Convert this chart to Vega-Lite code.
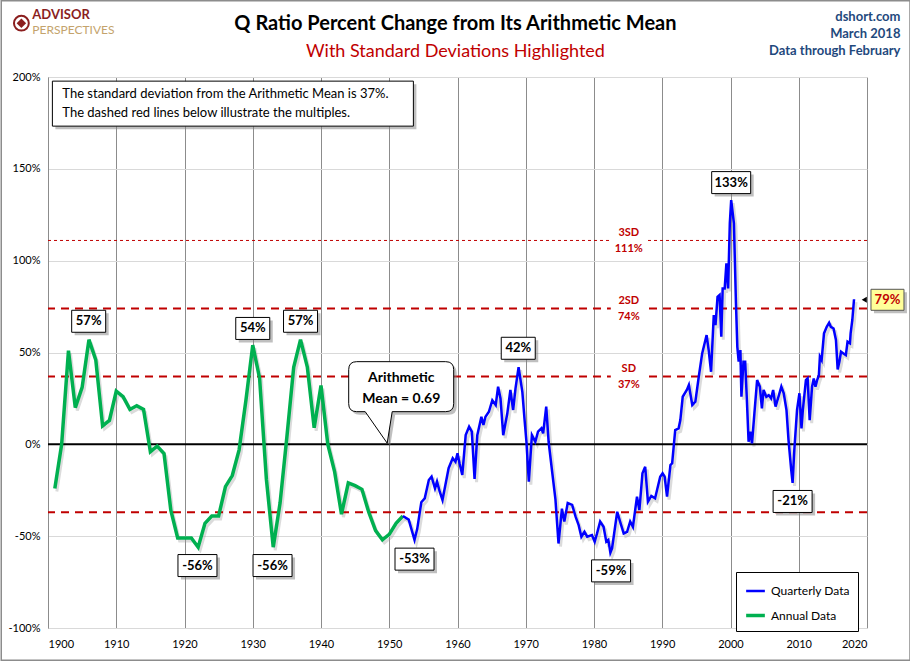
{
  "$schema": "https://vega.github.io/schema/vega-lite/v6.json",
  "width": 819,
  "height": 551,
  "autosize": {"type": "none"},
  "padding": {"left": 48, "top": 77, "right": 43, "bottom": 33},
  "background": "white",
  "datasets": {
    "series": [
      {"year": 1901, "value": -24, "series": "Annual Data"},
      {"year": 1902, "value": 0, "series": "Annual Data"},
      {"year": 1903, "value": 51, "series": "Annual Data"},
      {"year": 1904, "value": 20, "series": "Annual Data"},
      {"year": 1905, "value": 31, "series": "Annual Data"},
      {"year": 1906, "value": 57, "series": "Annual Data"},
      {"year": 1907, "value": 46, "series": "Annual Data"},
      {"year": 1908, "value": 10, "series": "Annual Data"},
      {"year": 1909, "value": 13, "series": "Annual Data"},
      {"year": 1910, "value": 29, "series": "Annual Data"},
      {"year": 1911, "value": 26, "series": "Annual Data"},
      {"year": 1912, "value": 19, "series": "Annual Data"},
      {"year": 1913, "value": 21, "series": "Annual Data"},
      {"year": 1914, "value": 19, "series": "Annual Data"},
      {"year": 1915, "value": -4, "series": "Annual Data"},
      {"year": 1916, "value": -1, "series": "Annual Data"},
      {"year": 1917, "value": -5, "series": "Annual Data"},
      {"year": 1918, "value": -36, "series": "Annual Data"},
      {"year": 1919, "value": -51, "series": "Annual Data"},
      {"year": 1920, "value": -51, "series": "Annual Data"},
      {"year": 1921, "value": -51, "series": "Annual Data"},
      {"year": 1922, "value": -56, "series": "Annual Data"},
      {"year": 1923, "value": -43, "series": "Annual Data"},
      {"year": 1924, "value": -39, "series": "Annual Data"},
      {"year": 1925, "value": -39, "series": "Annual Data"},
      {"year": 1926, "value": -23, "series": "Annual Data"},
      {"year": 1927, "value": -17, "series": "Annual Data"},
      {"year": 1928, "value": -3, "series": "Annual Data"},
      {"year": 1929, "value": 24, "series": "Annual Data"},
      {"year": 1930, "value": 54, "series": "Annual Data"},
      {"year": 1931, "value": 36, "series": "Annual Data"},
      {"year": 1932, "value": -19, "series": "Annual Data"},
      {"year": 1933, "value": -56, "series": "Annual Data"},
      {"year": 1934, "value": -32, "series": "Annual Data"},
      {"year": 1935, "value": 4, "series": "Annual Data"},
      {"year": 1936, "value": 42, "series": "Annual Data"},
      {"year": 1937, "value": 57, "series": "Annual Data"},
      {"year": 1938, "value": 42, "series": "Annual Data"},
      {"year": 1939, "value": 9, "series": "Annual Data"},
      {"year": 1940, "value": 32, "series": "Annual Data"},
      {"year": 1941, "value": 0, "series": "Annual Data"},
      {"year": 1942, "value": -15, "series": "Annual Data"},
      {"year": 1943, "value": -38, "series": "Annual Data"},
      {"year": 1944, "value": -21, "series": "Annual Data"},
      {"year": 1945, "value": -22.5, "series": "Annual Data"},
      {"year": 1946, "value": -24.5, "series": "Annual Data"},
      {"year": 1947, "value": -37, "series": "Annual Data"},
      {"year": 1948, "value": -47, "series": "Annual Data"},
      {"year": 1949, "value": -52, "series": "Annual Data"},
      {"year": 1950, "value": -49, "series": "Annual Data"},
      {"year": 1951, "value": -43, "series": "Annual Data"},
      {"year": 1952, "value": -39, "series": "Annual Data"},
      {"year": 1952.0, "value": -39, "series": "Quarterly Data"},
      {"year": 1952.85, "value": -41, "series": "Quarterly Data"},
      {"year": 1953.7, "value": -52, "series": "Quarterly Data"},
      {"year": 1954.1, "value": -46, "series": "Quarterly Data"},
      {"year": 1954.7, "value": -31.5, "series": "Quarterly Data"},
      {"year": 1955.2, "value": -29.4, "series": "Quarterly Data"},
      {"year": 1955.8, "value": -19.4, "series": "Quarterly Data"},
      {"year": 1956.2, "value": -17.6, "series": "Quarterly Data"},
      {"year": 1956.7, "value": -24, "series": "Quarterly Data"},
      {"year": 1957.0, "value": -20.3, "series": "Quarterly Data"},
      {"year": 1957.4, "value": -25.8, "series": "Quarterly Data"},
      {"year": 1957.8, "value": -30.3, "series": "Quarterly Data"},
      {"year": 1958.7, "value": -13, "series": "Quarterly Data"},
      {"year": 1959.3, "value": -7.6, "series": "Quarterly Data"},
      {"year": 1959.7, "value": -9.5, "series": "Quarterly Data"},
      {"year": 1960.0, "value": -4.9, "series": "Quarterly Data"},
      {"year": 1960.3, "value": -10.3, "series": "Quarterly Data"},
      {"year": 1960.7, "value": -16.7, "series": "Quarterly Data"},
      {"year": 1961.2, "value": 5, "series": "Quarterly Data"},
      {"year": 1961.7, "value": 9.6, "series": "Quarterly Data"},
      {"year": 1962.1, "value": 6.9, "series": "Quarterly Data"},
      {"year": 1962.5, "value": -18.9, "series": "Quarterly Data"},
      {"year": 1962.9, "value": 5, "series": "Quarterly Data"},
      {"year": 1963.5, "value": 15, "series": "Quarterly Data"},
      {"year": 1963.8, "value": 10.5, "series": "Quarterly Data"},
      {"year": 1964.1, "value": 15, "series": "Quarterly Data"},
      {"year": 1964.6, "value": 17.7, "series": "Quarterly Data"},
      {"year": 1965.1, "value": 24, "series": "Quarterly Data"},
      {"year": 1965.6, "value": 21.4, "series": "Quarterly Data"},
      {"year": 1965.95, "value": 31.4, "series": "Quarterly Data"},
      {"year": 1966.3, "value": 25, "series": "Quarterly Data"},
      {"year": 1966.7, "value": 5, "series": "Quarterly Data"},
      {"year": 1967.3, "value": 16.9, "series": "Quarterly Data"},
      {"year": 1967.75, "value": 29.6, "series": "Quarterly Data"},
      {"year": 1968.15, "value": 18.7, "series": "Quarterly Data"},
      {"year": 1968.5, "value": 30.5, "series": "Quarterly Data"},
      {"year": 1968.95, "value": 42, "series": "Quarterly Data"},
      {"year": 1969.5, "value": 28.6, "series": "Quarterly Data"},
      {"year": 1969.85, "value": 12.3, "series": "Quarterly Data"},
      {"year": 1970.1, "value": 1.4, "series": "Quarterly Data"},
      {"year": 1970.45, "value": -20.3, "series": "Quarterly Data"},
      {"year": 1970.9, "value": 5, "series": "Quarterly Data"},
      {"year": 1971.4, "value": 1.4, "series": "Quarterly Data"},
      {"year": 1971.8, "value": 6.9, "series": "Quarterly Data"},
      {"year": 1972.3, "value": 8.7, "series": "Quarterly Data"},
      {"year": 1972.55, "value": 6, "series": "Quarterly Data"},
      {"year": 1973.0, "value": 20.5, "series": "Quarterly Data"},
      {"year": 1973.35, "value": 1.4, "series": "Quarterly Data"},
      {"year": 1973.9, "value": -16, "series": "Quarterly Data"},
      {"year": 1974.35, "value": -30, "series": "Quarterly Data"},
      {"year": 1974.8, "value": -54, "series": "Quarterly Data"},
      {"year": 1975.3, "value": -35, "series": "Quarterly Data"},
      {"year": 1975.65, "value": -42, "series": "Quarterly Data"},
      {"year": 1976.15, "value": -32, "series": "Quarterly Data"},
      {"year": 1976.8, "value": -33, "series": "Quarterly Data"},
      {"year": 1977.3, "value": -39.4, "series": "Quarterly Data"},
      {"year": 1977.75, "value": -44, "series": "Quarterly Data"},
      {"year": 1978.15, "value": -50.3, "series": "Quarterly Data"},
      {"year": 1978.6, "value": -47.6, "series": "Quarterly Data"},
      {"year": 1979.0, "value": -50.3, "series": "Quarterly Data"},
      {"year": 1979.7, "value": -49.4, "series": "Quarterly Data"},
      {"year": 1980.1, "value": -53, "series": "Quarterly Data"},
      {"year": 1980.45, "value": -48.5, "series": "Quarterly Data"},
      {"year": 1980.9, "value": -42, "series": "Quarterly Data"},
      {"year": 1981.4, "value": -44.9, "series": "Quarterly Data"},
      {"year": 1981.8, "value": -53, "series": "Quarterly Data"},
      {"year": 1982.1, "value": -52, "series": "Quarterly Data"},
      {"year": 1982.4, "value": -59, "series": "Quarterly Data"},
      {"year": 1982.65, "value": -56.6, "series": "Quarterly Data"},
      {"year": 1983.4, "value": -36.7, "series": "Quarterly Data"},
      {"year": 1983.9, "value": -43, "series": "Quarterly Data"},
      {"year": 1984.35, "value": -48.5, "series": "Quarterly Data"},
      {"year": 1984.85, "value": -47.6, "series": "Quarterly Data"},
      {"year": 1985.3, "value": -42, "series": "Quarterly Data"},
      {"year": 1985.7, "value": -44.9, "series": "Quarterly Data"},
      {"year": 1986.3, "value": -28.5, "series": "Quarterly Data"},
      {"year": 1986.65, "value": -35.8, "series": "Quarterly Data"},
      {"year": 1987.1, "value": -15.8, "series": "Quarterly Data"},
      {"year": 1987.5, "value": -12.2, "series": "Quarterly Data"},
      {"year": 1987.9, "value": -31.2, "series": "Quarterly Data"},
      {"year": 1988.4, "value": -28.1, "series": "Quarterly Data"},
      {"year": 1988.95, "value": -29.4, "series": "Quarterly Data"},
      {"year": 1989.7, "value": -17.6, "series": "Quarterly Data"},
      {"year": 1990.05, "value": -15.8, "series": "Quarterly Data"},
      {"year": 1990.35, "value": -17.6, "series": "Quarterly Data"},
      {"year": 1990.7, "value": -28.5, "series": "Quarterly Data"},
      {"year": 1991.2, "value": -11.3, "series": "Quarterly Data"},
      {"year": 1991.45, "value": -10.3, "series": "Quarterly Data"},
      {"year": 1991.9, "value": 7.8, "series": "Quarterly Data"},
      {"year": 1992.4, "value": 8.7, "series": "Quarterly Data"},
      {"year": 1992.65, "value": 13.2, "series": "Quarterly Data"},
      {"year": 1993.0, "value": 25.9, "series": "Quarterly Data"},
      {"year": 1993.6, "value": 29.6, "series": "Quarterly Data"},
      {"year": 1993.9, "value": 32.3, "series": "Quarterly Data"},
      {"year": 1994.4, "value": 21.4, "series": "Quarterly Data"},
      {"year": 1994.85, "value": 23.2, "series": "Quarterly Data"},
      {"year": 1995.35, "value": 36.8, "series": "Quarterly Data"},
      {"year": 1995.85, "value": 49.5, "series": "Quarterly Data"},
      {"year": 1996.5, "value": 59.5, "series": "Quarterly Data"},
      {"year": 1996.8, "value": 51.3, "series": "Quarterly Data"},
      {"year": 1997.15, "value": 39.5, "series": "Quarterly Data"},
      {"year": 1997.55, "value": 70.4, "series": "Quarterly Data"},
      {"year": 1997.8, "value": 64.9, "series": "Quarterly Data"},
      {"year": 1998.1, "value": 80.3, "series": "Quarterly Data"},
      {"year": 1998.4, "value": 81.3, "series": "Quarterly Data"},
      {"year": 1998.65, "value": 58.6, "series": "Quarterly Data"},
      {"year": 1998.85, "value": 84.9, "series": "Quarterly Data"},
      {"year": 1999.15, "value": 84.9, "series": "Quarterly Data"},
      {"year": 1999.4, "value": 98.5, "series": "Quarterly Data"},
      {"year": 1999.65, "value": 84.9, "series": "Quarterly Data"},
      {"year": 1999.9, "value": 120.3, "series": "Quarterly Data"},
      {"year": 2000.1, "value": 133, "series": "Quarterly Data"},
      {"year": 2000.5, "value": 120.3, "series": "Quarterly Data"},
      {"year": 2000.8, "value": 76.8, "series": "Quarterly Data"},
      {"year": 2001.0, "value": 53.1, "series": "Quarterly Data"},
      {"year": 2001.2, "value": 45, "series": "Quarterly Data"},
      {"year": 2001.45, "value": 51.3, "series": "Quarterly Data"},
      {"year": 2001.6, "value": 25.9, "series": "Quarterly Data"},
      {"year": 2001.9, "value": 45, "series": "Quarterly Data"},
      {"year": 2002.15, "value": 45, "series": "Quarterly Data"},
      {"year": 2002.4, "value": 24.1, "series": "Quarterly Data"},
      {"year": 2002.65, "value": 1.4, "series": "Quarterly Data"},
      {"year": 2002.9, "value": 6.9, "series": "Quarterly Data"},
      {"year": 2003.15, "value": 0.5, "series": "Quarterly Data"},
      {"year": 2003.5, "value": 16.9, "series": "Quarterly Data"},
      {"year": 2003.9, "value": 35, "series": "Quarterly Data"},
      {"year": 2004.3, "value": 31.4, "series": "Quarterly Data"},
      {"year": 2004.6, "value": 19.6, "series": "Quarterly Data"},
      {"year": 2004.85, "value": 29.6, "series": "Quarterly Data"},
      {"year": 2005.25, "value": 25.9, "series": "Quarterly Data"},
      {"year": 2005.6, "value": 26.8, "series": "Quarterly Data"},
      {"year": 2005.95, "value": 25, "series": "Quarterly Data"},
      {"year": 2006.25, "value": 29.6, "series": "Quarterly Data"},
      {"year": 2006.6, "value": 20.5, "series": "Quarterly Data"},
      {"year": 2007.1, "value": 26.8, "series": "Quarterly Data"},
      {"year": 2007.45, "value": 31.4, "series": "Quarterly Data"},
      {"year": 2007.8, "value": 27.8, "series": "Quarterly Data"},
      {"year": 2008.2, "value": 18.7, "series": "Quarterly Data"},
      {"year": 2008.5, "value": 2.3, "series": "Quarterly Data"},
      {"year": 2008.9, "value": -14, "series": "Quarterly Data"},
      {"year": 2009.1, "value": -21, "series": "Quarterly Data"},
      {"year": 2009.35, "value": -3.1, "series": "Quarterly Data"},
      {"year": 2009.75, "value": 18.7, "series": "Quarterly Data"},
      {"year": 2010.1, "value": 27.8, "series": "Quarterly Data"},
      {"year": 2010.4, "value": 8.7, "series": "Quarterly Data"},
      {"year": 2010.6, "value": 18.7, "series": "Quarterly Data"},
      {"year": 2011.05, "value": 35, "series": "Quarterly Data"},
      {"year": 2011.3, "value": 35.9, "series": "Quarterly Data"},
      {"year": 2011.6, "value": 13.2, "series": "Quarterly Data"},
      {"year": 2011.95, "value": 31.4, "series": "Quarterly Data"},
      {"year": 2012.2, "value": 35.9, "series": "Quarterly Data"},
      {"year": 2012.45, "value": 31.4, "series": "Quarterly Data"},
      {"year": 2012.7, "value": 35, "series": "Quarterly Data"},
      {"year": 2012.95, "value": 37.7, "series": "Quarterly Data"},
      {"year": 2013.1, "value": 47.7, "series": "Quarterly Data"},
      {"year": 2013.35, "value": 45.9, "series": "Quarterly Data"},
      {"year": 2013.7, "value": 60.4, "series": "Quarterly Data"},
      {"year": 2014.1, "value": 64, "series": "Quarterly Data"},
      {"year": 2014.45, "value": 66.2, "series": "Quarterly Data"},
      {"year": 2014.7, "value": 64, "series": "Quarterly Data"},
      {"year": 2015.1, "value": 63.1, "series": "Quarterly Data"},
      {"year": 2015.45, "value": 56.8, "series": "Quarterly Data"},
      {"year": 2015.7, "value": 40.8, "series": "Quarterly Data"},
      {"year": 2015.95, "value": 45, "series": "Quarterly Data"},
      {"year": 2016.2, "value": 50.4, "series": "Quarterly Data"},
      {"year": 2016.55, "value": 49.5, "series": "Quarterly Data"},
      {"year": 2016.9, "value": 48.6, "series": "Quarterly Data"},
      {"year": 2017.15, "value": 55.9, "series": "Quarterly Data"},
      {"year": 2017.5, "value": 55, "series": "Quarterly Data"},
      {"year": 2017.6, "value": 60.4, "series": "Quarterly Data"},
      {"year": 2017.85, "value": 67.7, "series": "Quarterly Data"},
      {"year": 2018.1, "value": 79, "series": "Quarterly Data"}
    ],
    "sdLines": [{"value": 37}, {"value": 74}, {"value": -37}],
    "sd3Line": [{"value": 111}],
    "meanLine": [{"value": 0}],
    "sdLabels": [
      {"year": 1985.1, "value": 115.2, "label": "3SD"},
      {"year": 1985.1, "value": 106.2, "label": "111%"},
      {"year": 1985.1, "value": 78.1, "label": "2SD"},
      {"year": 1985.1, "value": 69.5, "label": "74%"},
      {"year": 1985.1, "value": 41, "label": "SD"},
      {"year": 1985.1, "value": 32.3, "label": "37%"}
    ],
    "sdGaps": [
      {"year": 1985.1, "value": 111},
      {"year": 1985.1, "value": 74},
      {"year": 1985.1, "value": 37}
    ],
    "peaks": [
      {"year": 1905.96, "value": 67, "label": "57%"},
      {"year": 1930.0, "value": 63.1, "label": "54%"},
      {"year": 1937.0, "value": 67, "label": "57%"},
      {"year": 1921.9, "value": -66, "label": "-56%"},
      {"year": 1932.9, "value": -66, "label": "-56%"},
      {"year": 1953.7, "value": -62.5, "label": "-53%"},
      {"year": 1968.9, "value": 52.3, "label": "42%"},
      {"year": 1982.5, "value": -68.9, "label": "-59%"},
      {"year": 2000.1, "value": 142.5, "label": "133%"},
      {"year": 2009.1, "value": -31.1, "label": "-21%"}
    ],
    "latest": [{"year": 2023.0, "value": 78.7, "label": "79%", "arrowYear": 2019.6}],
    "note": [{"year": 1927.09, "value": 185.5}],
    "noteText": [
      {"year": 1902.1, "value": 190.7, "label": "The standard deviation from the Arithmetic Mean is 37%."},
      {"year": 1902.1, "value": 180.3, "label": "The dashed red lines below illustrate the multiples."}
    ],
    "mean": [{"year": 1951.75, "value": 31.4}],
    "meanText": [
      {"year": 1951.75, "value": 36.1, "label": "Arithmetic"},
      {"year": 1951.75, "value": 24.7, "label": "Mean = 0.69"}
    ],
    "titleText": [{"year": 1959.7, "value": 228.8, "label": "Q Ratio Percent Change from Its Arithmetic Mean"}],
    "subtitleText": [{"year": 1959.7, "value": 213.6, "label": "With Standard Deviations Highlighted"}],
    "source": [
      {"year": 2024.9, "value": 232.6, "label": "dshort.com"},
      {"year": 2024.9, "value": 223.4, "label": "March 2018"},
      {"year": 2024.9, "value": 214.1, "label": "Data through February"}
    ],
    "logoTop": [{"year": 1897.7, "value": 233.7, "label": "ADVISOR"}],
    "logoBottom": [{"year": 1897.7, "value": 225.8, "label": "PERSPECTIVES"}],
    "logoIcon": [{"year": 1896.1, "value": 229.3}]
  },
  "layer": [
    {
      "data": {"values": [{}]},
      "mark": {"type": "rect", "fill": null, "stroke": "#8c8c8c", "strokeWidth": 1.5},
      "encoding": {
        "x": {"datum": 1893.15, "type": "quantitative"},
        "x2": {"datum": 2026.3},
        "y": {"datum": 241.5, "type": "quantitative"},
        "y2": {"datum": -117.6}
      }
    },
    {
      "data": {"name": "series"},
      "mark": {"type": "line", "color": "#999999", "opacity": 0.35, "strokeWidth": 3, "xOffset": 2, "yOffset": 3},
      "encoding": {
        "x": {
          "field": "year", "type": "quantitative",
          "scale": {"domain": [1900, 2020], "nice": false, "zero": false},
          "axis": {
            "title": null, "values": [1900, 1910, 1920, 1930, 1940, 1950, 1960, 1970, 1980, 1990, 2000, 2010, 2020],
            "format": "d", "grid": true, "gridColor": "#8c8c8c", "gridWidth": 1,
            "ticks": false, "domainColor": "#d9d9d9", "labelPadding": 10,
            "labelFont": "Lato", "labelFontSize": 11, "labelColor": "black"
          }
        },
        "y": {
          "field": "value", "type": "quantitative",
          "scale": {"domain": [-100, 200], "nice": false, "zero": false},
          "axis": {
            "title": null, "values": [-100, -50, 0, 50, 100, 150, 200],
            "labelExpr": "datum.value + '%'", "grid": true, "gridColor": "#d9d9d9",
            "ticks": false, "domainColor": "#8c8c8c", "labelPadding": 8,
            "labelFont": "Lato", "labelFontSize": 11, "labelColor": "black"
          }
        },
        "detail": {"field": "series"}
      }
    },
    {
      "data": {"name": "sdLines"},
      "mark": {"type": "rule", "color": "#c00000", "strokeWidth": 2, "strokeDash": [8, 6]},
      "encoding": {"y": {"field": "value", "type": "quantitative"}}
    },
    {
      "data": {"name": "sd3Line"},
      "mark": {"type": "rule", "color": "#c00000", "strokeWidth": 1, "strokeDash": [3, 3]},
      "encoding": {"y": {"field": "value", "type": "quantitative"}}
    },
    {
      "data": {"name": "sdGaps"},
      "mark": {"type": "rect", "fill": "white", "width": 36, "height": 6},
      "encoding": {
        "x": {"field": "year", "type": "quantitative"},
        "y": {"field": "value", "type": "quantitative"}
      }
    },
    {
      "data": {"name": "sdLabels"},
      "mark": {"type": "text", "color": "#c00000", "font": "Lato", "fontSize": 11, "fontWeight": "bold", "baseline": "middle", "align": "center"},
      "encoding": {
        "x": {"field": "year", "type": "quantitative"},
        "y": {"field": "value", "type": "quantitative"},
        "text": {"field": "label"}
      }
    },
    {
      "data": {"name": "meanLine"},
      "mark": {"type": "rule", "color": "black", "strokeWidth": 2},
      "encoding": {"y": {"field": "value", "type": "quantitative"}}
    },
    {
      "data": {"name": "series"},
      "mark": {"type": "line"},
      "encoding": {
        "x": {"field": "year", "type": "quantitative"},
        "y": {"field": "value", "type": "quantitative"},
        "color": {
          "field": "series", "type": "nominal",
          "scale": {"domain": ["Quarterly Data", "Annual Data"], "range": ["#0000ff", "#00b050"]},
          "legend": {"title": null}
        },
        "strokeWidth": {
          "field": "series", "type": "nominal",
          "scale": {"domain": ["Quarterly Data", "Annual Data"], "range": [2.5, 3.5]},
          "legend": null
        }
      }
    },
    {
      "data": {"name": "note"},
      "encoding": {
        "x": {"field": "year", "type": "quantitative"},
        "y": {"field": "value", "type": "quantitative"}
      },
      "layer": [
        {"mark": {"type": "rect", "fill": "#808080", "opacity": 0.5, "width": 361, "height": 45, "xOffset": 3, "yOffset": 3}},
        {"mark": {"type": "rect", "fill": "white", "stroke": "black", "strokeWidth": 1, "width": 361, "height": 45}}
      ]
    },
    {
      "data": {"name": "noteText"},
      "mark": {"type": "text", "align": "left", "baseline": "middle", "font": "Lato", "fontSize": 13, "color": "black"},
      "encoding": {
        "x": {"field": "year", "type": "quantitative"},
        "y": {"field": "value", "type": "quantitative"},
        "text": {"field": "label"}
      }
    },
    {
      "data": {"name": "mean"},
      "encoding": {
        "x": {"field": "year", "type": "quantitative"},
        "y": {"field": "value", "type": "quantitative"}
      },
      "layer": [
        {"mark": {"type": "point", "shape": "M-0.89,-0.5H0.89Q1.05,-0.5,1.05,-0.34V0.34Q1.05,0.5,0.89,0.5H-0.18L-0.28,1.13L-0.72,0.5H-0.89Q-1.05,0.5,-1.05,0.34V-0.34Q-1.05,-0.5,-0.89,-0.5Z", "size": 10000, "filled": true, "fill": "#808080", "opacity": 0.5, "strokeWidth": 0, "xOffset": 3, "yOffset": 3}},
        {"mark": {"type": "point", "shape": "M-0.89,-0.5H0.89Q1.05,-0.5,1.05,-0.34V0.34Q1.05,0.5,0.89,0.5H-0.18L-0.28,1.13L-0.72,0.5H-0.89Q-1.05,0.5,-1.05,0.34V-0.34Q-1.05,-0.5,-0.89,-0.5Z", "size": 10000, "filled": true, "fill": "white", "stroke": "black", "strokeWidth": 1, "opacity": 1}}
      ]
    },
    {
      "data": {"name": "meanText"},
      "mark": {"type": "text", "align": "center", "baseline": "middle", "font": "Lato", "fontSize": 14, "fontWeight": "bold", "color": "black"},
      "encoding": {
        "x": {"field": "year", "type": "quantitative"},
        "y": {"field": "value", "type": "quantitative"},
        "text": {"field": "label"}
      }
    },
    {
      "data": {"name": "peaks"},
      "encoding": {
        "x": {"field": "year", "type": "quantitative"},
        "y": {"field": "value", "type": "quantitative"}
      },
      "layer": [
        {
          "transform": [{"filter": "length(datum.label) <= 3"}],
          "layer": [
            {"mark": {"type": "rect", "fill": "#808080", "opacity": 0.5, "width": 34, "height": 22, "xOffset": 3, "yOffset": 3}},
            {"mark": {"type": "rect", "fill": "white", "stroke": "black", "strokeWidth": 1, "width": 34, "height": 22}}
          ]
        },
        {
          "transform": [{"filter": "length(datum.label) > 3"}],
          "layer": [
            {"mark": {"type": "rect", "fill": "#808080", "opacity": 0.5, "width": 39, "height": 22, "xOffset": 3, "yOffset": 3}},
            {"mark": {"type": "rect", "fill": "white", "stroke": "black", "strokeWidth": 1, "width": 39, "height": 22}}
          ]
        },
        {
          "mark": {"type": "text", "align": "center", "baseline": "middle", "font": "Lato", "fontSize": 13, "fontWeight": "bold", "color": "black"},
          "encoding": {"text": {"field": "label"}}
        }
      ]
    },
    {
      "data": {"name": "latest"},
      "encoding": {
        "x": {"field": "year", "type": "quantitative"},
        "y": {"field": "value", "type": "quantitative"}
      },
      "layer": [
        {"mark": {"type": "rect", "fill": "#808080", "opacity": 0.5, "width": 33, "height": 21, "xOffset": 3, "yOffset": 3}},
        {"mark": {"type": "rect", "fill": "#ffff99", "stroke": "#555555", "strokeWidth": 1, "width": 33, "height": 21}},
        {
          "mark": {"type": "text", "align": "center", "baseline": "middle", "font": "Lato", "fontSize": 13, "fontWeight": "bold", "color": "#c00000"},
          "encoding": {"text": {"field": "label"}}
        },
        {
          "mark": {"type": "point", "shape": "triangle-left", "filled": true, "color": "black", "size": 35, "opacity": 1},
          "encoding": {"x": {"field": "arrowYear", "type": "quantitative"}}
        }
      ]
    },
    {
      "data": {"name": "titleText"},
      "mark": {"type": "text", "align": "center", "baseline": "middle", "font": "Lato", "fontSize": 20, "fontWeight": "bold", "color": "black"},
      "encoding": {
        "x": {"field": "year", "type": "quantitative"},
        "y": {"field": "value", "type": "quantitative"},
        "text": {"field": "label"}
      }
    },
    {
      "data": {"name": "subtitleText"},
      "mark": {"type": "text", "align": "center", "baseline": "middle", "font": "Lato", "fontSize": 18, "color": "#c00000"},
      "encoding": {
        "x": {"field": "year", "type": "quantitative"},
        "y": {"field": "value", "type": "quantitative"},
        "text": {"field": "label"}
      }
    },
    {
      "data": {"name": "source"},
      "mark": {"type": "text", "align": "right", "baseline": "middle", "font": "Lato", "fontSize": 13, "fontWeight": "bold", "color": "#1f497d"},
      "encoding": {
        "x": {"field": "year", "type": "quantitative"},
        "y": {"field": "value", "type": "quantitative"},
        "text": {"field": "label"}
      }
    },
    {
      "data": {"name": "logoTop"},
      "mark": {"type": "text", "align": "left", "baseline": "middle", "font": "Lato", "fontSize": 13, "fontWeight": "bold", "color": "#8b1e1e"},
      "encoding": {
        "x": {"field": "year", "type": "quantitative"},
        "y": {"field": "value", "type": "quantitative"},
        "text": {"field": "label"}
      }
    },
    {
      "data": {"name": "logoBottom"},
      "mark": {"type": "text", "align": "left", "baseline": "middle", "font": "Lato", "fontSize": 12, "color": "#c4a36c"},
      "encoding": {
        "x": {"field": "year", "type": "quantitative"},
        "y": {"field": "value", "type": "quantitative"},
        "text": {"field": "label"}
      }
    },
    {
      "data": {"name": "logoIcon"},
      "encoding": {
        "x": {"field": "year", "type": "quantitative"},
        "y": {"field": "value", "type": "quantitative"}
      },
      "layer": [
        {"mark": {"type": "point", "shape": "circle", "size": 220, "filled": false, "stroke": "#8b1e1e", "strokeWidth": 2, "opacity": 1}},
        {"mark": {"type": "point", "shape": "diamond", "size": 90, "filled": true, "fill": "#8b1e1e", "opacity": 1}}
      ]
    }
  ],
  "config": {
    "view": {"stroke": null},
    "legend": {
      "orient": "none", "legendX": 688, "legendY": 495,
      "symbolType": "stroke", "symbolStrokeWidth": 3, "symbolSize": 350,
      "strokeColor": "black", "fillColor": "white", "padding": 8,
      "labelFont": "Lato", "labelFontSize": 12, "labelColor": "black", "rowPadding": 7
    }
  }
}
